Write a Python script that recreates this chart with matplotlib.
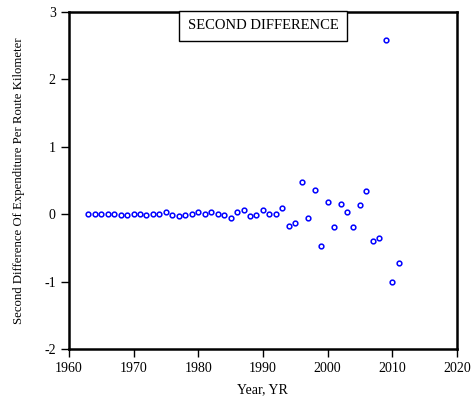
import matplotlib
matplotlib.use("Agg")
import matplotlib.pyplot as plt

plt.rcParams["font.family"] = ["Liberation Serif", "DejaVu Serif"]
plt.rcParams["axes.unicode_minus"] = False

years = list(range(1963, 2012))
second_diff = [
    0.0, 0.0, 0.0, 0.0, 0.0, -0.005, -0.005, 0.0, 0.0, -0.005,
    0.005, 0.0, 0.035, -0.005, -0.03, -0.015, 0.01, 0.035, 0.005, 0.035,
    0.01, -0.01, -0.05, 0.04, 0.065, -0.03, -0.015, 0.065, 0.005, 0.0,
    0.094, -0.18, -0.13, 0.48, -0.055, 0.356, -0.47, 0.178, -0.183, 0.149,
    0.035, -0.183, 0.134, 0.337, -0.396, -0.35, 2.59, -1.005, -0.72,
]

fig = plt.figure(figsize=(4.75, 4.0), dpi=100)
ax = fig.add_axes([0.145, 0.1275, 0.817, 0.8425])

ax.plot(years, second_diff, linestyle="none", marker="o", markersize=3.4,
        markerfacecolor="none", markeredgecolor="#0000ff", markeredgewidth=1.1)

ax.set_xlim(1960, 2020)
ax.set_ylim(-2, 3)
ax.set_xticks(range(1960, 2021, 10))
ax.set_yticks([-2, -1, 0, 1, 2, 3])

for s in ax.spines.values():
    s.set_linewidth(1.8)
ax.tick_params(direction="out", length=6, width=1, labelsize=10, top=False, right=False)

ax.set_xlabel("Year, YR", fontsize=10)
ax.set_ylabel("Second Difference Of Expenditure Per Route Kilometer", fontsize=9.2)
ax.yaxis.set_label_coords(-0.112, 0.5)
ax.xaxis.set_label_coords(0.5, -0.1)

ax.text(0.5, 0.959, "SECOND DIFFERENCE", transform=ax.transAxes, ha="center", va="center",
        fontsize=10.5, bbox=dict(boxstyle="square,pad=0.6", facecolor="white",
                                 edgecolor="black", linewidth=1))

fig.savefig("out.png", dpi=100)
